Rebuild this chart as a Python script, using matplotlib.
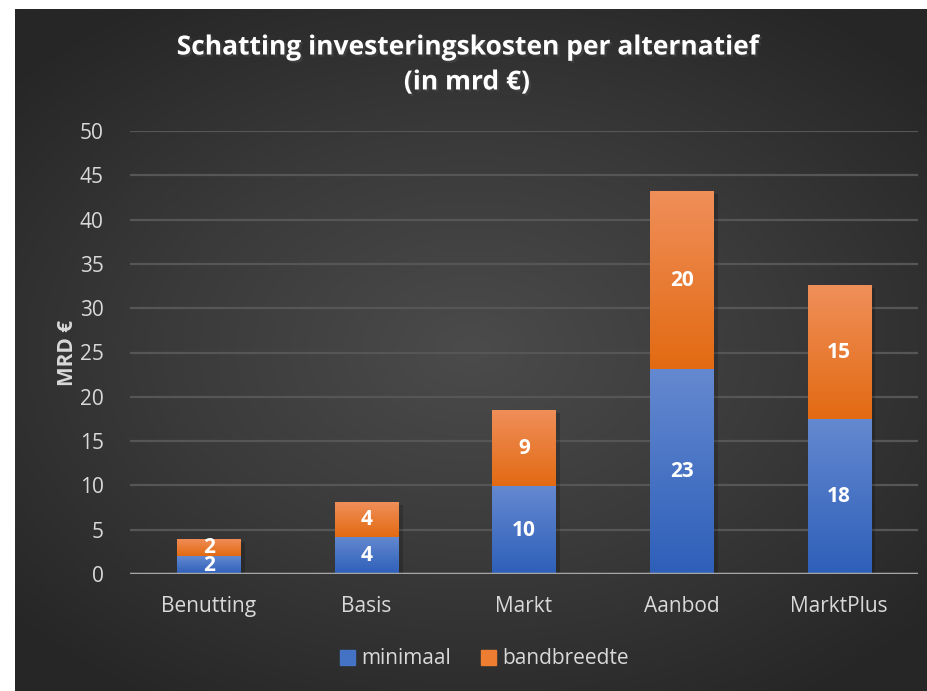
import numpy as np
import matplotlib
matplotlib.use("Agg")
import matplotlib.pyplot as plt
from matplotlib.colors import LinearSegmentedColormap
from matplotlib.patches import Patch
import matplotlib.patheffects as pe

# data
categories = ["Benutting", "Basis", "Markt", "Aanbod", "MarktPlus"]
minimaal = [2.0, 4.2, 9.9, 23.1, 17.5]
bandbreedte = [1.95, 3.9, 8.6, 20.1, 15.1]
yticks = [0, 5, 10, 15, 20, 25, 30, 35, 40, 45, 50]

plt.rcParams['font.family'] = ['Open Sans', 'DejaVu Sans']

fig = plt.figure(figsize=(9.28, 6.91), dpi=100, facecolor="white")

# radial background
bg = fig.add_axes([15 / 928, 0, 1 - 15 / 928, 1 - 9 / 691])
yy, xx = np.mgrid[-1:1:300j, -1:1:400j]
r = np.sqrt((xx * 1.0) ** 2 + (yy * 1.1) ** 2)
bg_cmap = LinearSegmentedColormap.from_list("bg", ["#4b4b4b", "#3a3a3a", "#262626"])
bg.imshow(r, cmap=bg_cmap, vmin=0, vmax=1.35, aspect="auto", extent=[0, 1, 0, 1])
bg.set_axis_off()

ax = fig.add_axes([130 / 928, 1 - 574 / 691, (918 - 130) / 928, (574 - 131) / 691])
ax.patch.set_alpha(0)

x = np.arange(len(categories))
blue_cmap = LinearSegmentedColormap.from_list("b", ["#2e5fb9", "#6489d0"])
orange_cmap = LinearSegmentedColormap.from_list("o", ["#e26a12", "#f08f5a"])

b1 = ax.bar(x, minimaal, width=0.4, color="#4472c4", zorder=3)
b2 = ax.bar(x, bandbreedte, width=0.4, bottom=minimaal, color="#ed7d31", zorder=3)

grad = np.linspace(0, 1, 256).reshape(-1, 1)
for bars, cmap in ((b1, blue_cmap), (b2, orange_cmap)):
    for p in bars:
        x0, y0 = p.get_x(), p.get_y()
        w, h = p.get_width(), p.get_height()
        # soft shadow
        ax.bar(x0 + w / 2 + 0.015, h, width=w + 0.03, bottom=y0 - 0.3,
               color="black", alpha=0.18, zorder=2)
        im = ax.imshow(grad, cmap=cmap, origin="lower", aspect="auto",
                       extent=[x0, x0 + w, y0, y0 + h], zorder=4)
        im.set_clip_path(p)

for bars, vals in ((b1, minimaal), (b2, bandbreedte)):
    for p, v in zip(bars, vals):
        ax.text(p.get_x() + p.get_width() / 2, p.get_y() + p.get_height() / 2,
                f"{v:.0f}", ha="center", va="center", color="white",
                fontsize=15, fontweight="bold", zorder=6)

ax.set_xlim(-0.5, len(categories) - 0.5)
ax.set_ylim(0, 50)
ax.set_yticks(yticks)
ax.set_xticks(x)
ax.set_xticklabels(categories)
ax.tick_params(colors="#d9d9d9", labelsize=15, length=0)
ax.tick_params(axis="y", pad=19)
ax.tick_params(axis="x", pad=16)
ax.grid(axis="y", color="#565656", linewidth=1.6, zorder=0)
ax.set_axisbelow(True)
for s in ax.spines.values():
    s.set_visible(False)
ax.axhline(0, color="#a6a6a6", linewidth=2.5, zorder=5)

ax.set_ylabel("MRD €", color="#d9d9d9", fontsize=15, fontweight="bold", labelpad=1)

title_fx = [pe.withSimplePatchShadow(offset=(1.5, -1.5), alpha=0.5)]
fig.text(0.503, 1 - 47 / 691, "Schatting investeringskosten per alternatief",
         ha="center", va="center", color="white", fontsize=19, fontweight="bold",
         path_effects=title_fx)
fig.text(0.503, 1 - 82 / 691, "(in mrd €)",
         ha="center", va="center", color="white", fontsize=19, fontweight="bold",
         path_effects=title_fx)

handles = [Patch(color="#4472c4"), Patch(color="#ed7d31")]
fig.legend(handles, ["minimaal", "bandbreedte"], loc="center", ncol=2,
           bbox_to_anchor=(0.522, 1 - 659 / 691), frameon=False,
           labelcolor="#d9d9d9", fontsize=15, handlelength=0.75, handleheight=0.75,
           handletextpad=0.3, columnspacing=1.4)

fig.savefig("out.png", dpi=100, facecolor="white")
